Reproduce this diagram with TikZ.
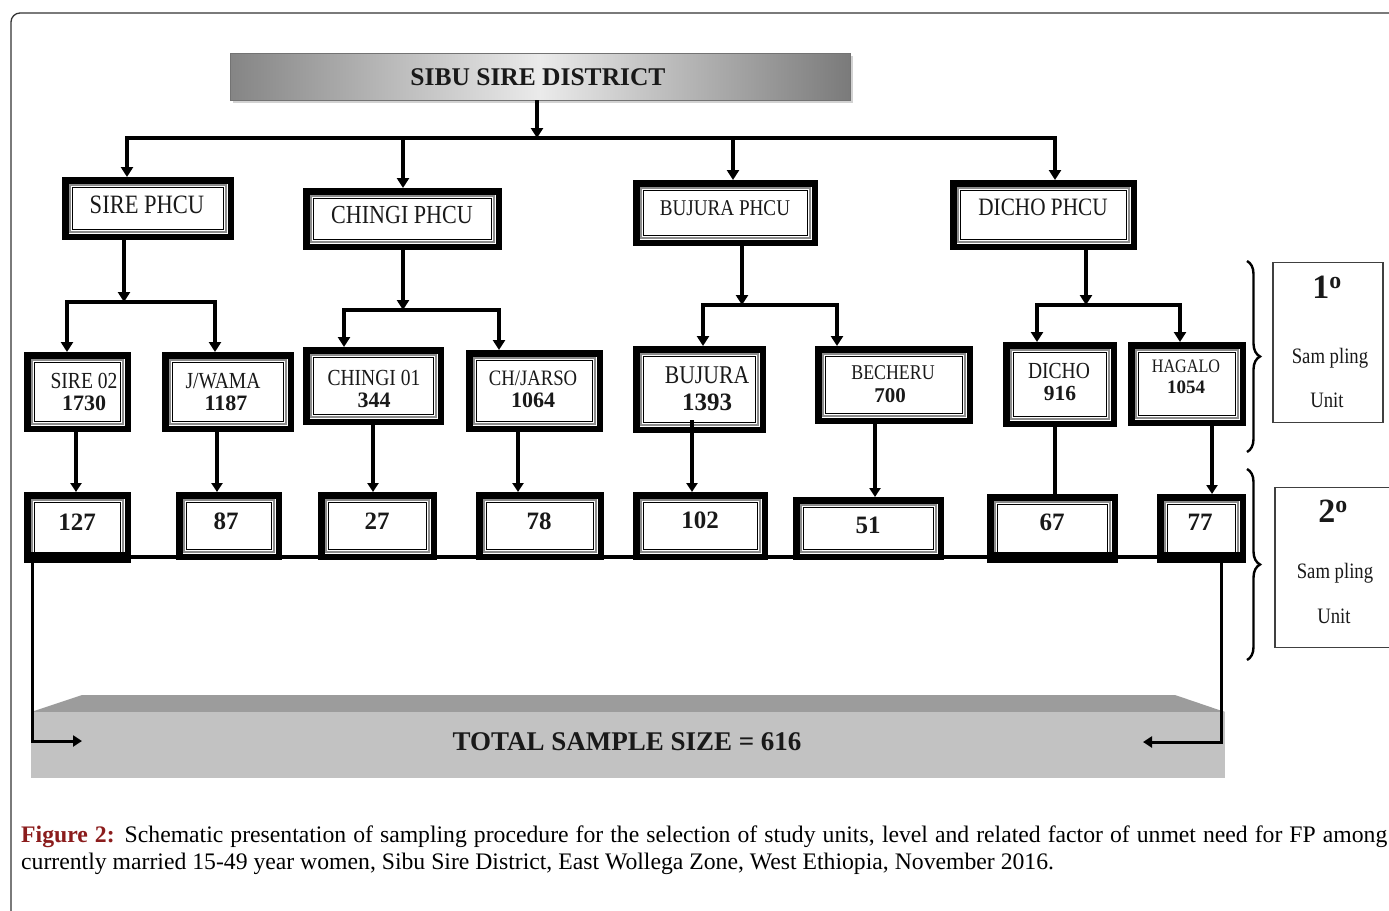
\documentclass[tikz,border=0pt]{standalone}
\usepackage{fontspec}
\setmainfont{Liberation Serif}
\newfontfamily\cond{Liberation Serif}[FakeStretch=0.85]
\usetikzlibrary{arrows.meta,shadows,decorations.pathreplacing}
\definecolor{capred}{HTML}{8B1C1C}
\definecolor{slabtop}{HTML}{9C9C9C}
\definecolor{slabfront}{HTML}{C2C2C2}
\newcommand\fsz[1]{\fontsize{#1}{#1}\selectfont}
% name, x1, y1, x2, y2 (outer edges, pixel units)
\newcommand\bx[5]{\node[tri, minimum width={(#4-#2-6.5)*1pt}, minimum height={(#5-#3-6.5)*1pt}] (#1) at ({(#2+#4)/2},{(#3+#5)/2}) {};
  \draw[ringa] ([xshift=8.2pt,yshift=-8.2pt]#1.north west) rectangle ([xshift=-8.2pt,yshift=8.2pt]#1.south east);
  \draw[ringb] ([xshift=10.6pt,yshift=-10.6pt]#1.north west) rectangle ([xshift=-10.6pt,yshift=10.6pt]#1.south east);}
\newcommand\thick[1]{\fill[black] (#1.south west) rectangle ([yshift=11pt]#1.south east);}
\begin{document}
\begin{tikzpicture}[x=1pt,y=-1pt,
  tri/.style={draw=black, line width=6.5pt, fill=white, inner sep=0pt, rectangle},
  ringa/.style={draw=black!45, line width=2.2pt},
  ringb/.style={draw=black, line width=0.9pt},
  txt/.style={inner sep=0pt, anchor=base, text=black!90},
  nm/.style={txt, font=\cond\fsz{#1}},
  num/.style={txt, font=\bfseries\fsz{#1}},
  wire/.style={line width=4pt, line cap=rect},
  arr/.style={line width=4pt, -{Triangle[width=12pt,length=10pt]}},
  arrs/.style={line width=3.2pt, -{Triangle[width=11pt,length=9pt]}},
  brc/.style={decorate, decoration={brace, amplitude=13pt}, line width=2.4pt},
  subox/.style={draw=black!75, line width=1.2pt, inner sep=0pt, rectangle}]
\useasboundingbox (0,0) rectangle (1389,910);
\fill[white] (0,0) rectangle (1389,910);
% outer frame
\draw[line width=1.3pt, black!80, rounded corners=9pt] (11,920) -- (11,13) -- (1400,13);

% total slab
\fill[slabtop] (31,712) -- (82,695) -- (1175,695) -- (1225,712) -- cycle;
\fill[slabfront] (31,712) rectangle (1225,778);
\node[num=27] (total) at (627,750) {TOTAL SAMPLE SIZE = 616};

% title
\node[rectangle, draw=black!55, line width=0.6pt, minimum width=620pt, minimum height=47pt,
  left color=black!48, right color=black!52, middle color=black!8,
  drop shadow={opacity=0.35, shadow xshift=3pt, shadow yshift=-3pt}] (title) at (540,76.5) {};
\node[num=25.5] (ttitle) at (538,85) {SIBU SIRE DISTRICT};

% bottom horizontal line
\coordinate (hl) at (24,557); \coordinate (hr) at (1246,557);
\draw[line width=3.5pt] (hl) -- (hr);

% PHCU boxes
\bx{sire}{62}{177}{234}{240}
\bx{chingi}{303}{188}{502}{250}
\bx{bujura}{633}{180}{818}{246}
\bx{dicho}{950}{180}{1137}{250}
% kebele boxes
\bx{sire02}{24}{352}{131}{432}
\bx{jwama}{162}{352}{294}{432}
\bx{chingi01}{303}{347}{444}{425}
\bx{chjarso}{466}{350}{603}{432}
\bx{bujurak}{633}{346}{766}{433}
\bx{becheru}{815}{346}{973}{424}
\bx{dichok}{1003}{342}{1117}{427}
\bx{hagalo}{1128}{342}{1246}{426}
% sample boxes
\bx{n127}{24}{492}{131}{563}
\bx{n87}{176}{492}{282}{560}
\bx{n27}{318}{492}{437}{560}
\bx{n78}{476}{492}{604}{560}
\bx{n102}{633}{492}{768}{560}
\bx{n51}{793}{497}{944}{560}
\bx{n67}{987}{494}{1118}{563}
\bx{n77}{1157}{494}{1246}{563}
\thick{n127}\thick{n67}\thick{n77}

% texts
\node[nm=26.5] (tsire) at (147,213) {SIRE PHCU};
\node[nm=26] (tchingi) at (402,223) {CHINGI PHCU};
\node[nm=22.5] (tbujura) at (725,215) {BUJURA PHCU};
\node[nm=25] (tdicho) at (1043,215) {DICHO PHCU};

\node[nm=23] (a1) at (84,388) {SIRE 02};
\node[num=22] (b1) at (84,410) {1730};
\node[nm=23] (a2) at (223,388) {J/WAMA};
\node[num=22] (b2) at (226,410) {1187};
\node[nm=23] (a3) at (374,385) {CHINGI 01};
\node[num=22] (b3) at (374,407) {344};
\node[nm=22] (a4) at (533,385) {CH/JARSO};
\node[num=22] (b4) at (533,407) {1064};
\node[nm=25.5] (a5) at (707,383) {BUJURA};
\node[num=25] (b5) at (707,410) {1393};
\node[nm=21] (a6) at (893,379) {BECHERU};
\node[num=21] (b6) at (890,402) {700};
\node[nm=23] (a7) at (1059,378) {DICHO};
\node[num=21.5] (b7) at (1060,400) {916};
\node[nm=19] (a8) at (1186,372) {HAGALO};
\node[num=19] (b8) at (1186,393) {1054};

\node[num=25] (c1) at (77,530) {127};
\node[num=25] (c2) at (226,529) {87};
\node[num=25] (c3) at (377,529) {27};
\node[num=25] (c4) at (539,529) {78};
\node[num=25] (c5) at (700,528) {102};
\node[num=25] (c6) at (868,533) {51};
\node[num=25] (c7) at (1052,530) {67};
\node[num=25] (c8) at (1200,530) {77};

% level 1 connectors
\coordinate (bt) at (537,138);
\coordinate (bL) at (127,138); \coordinate (bR) at (1055,138);
\coordinate (bB) at (403,138); \coordinate (bC) at (733,138);
\draw[arr] (bt |- title.south) -- (bt);
\draw[line width=4.5pt, line cap=rect] (bL) -- (bR);
\draw[arr] (bL) -- (bL |- sire.north);
\draw[arr] (bB) -- (bB |- chingi.north);
\draw[arr] (bC) -- (bC |- bujura.north);
\draw[arr] (bR) -- (bR |- dicho.north);

% level 2 connectors
\coordinate (s1) at (124,302); \coordinate (s1l) at (67,302); \coordinate (s1r) at (215,302);
\draw[arr] (s1 |- sire.south) -- (s1);
\draw[wire] (s1l) -- (s1r);
\draw[arr] (s1l) -- (s1l |- sire02.north);
\draw[arr] (s1r) -- (s1r |- jwama.north);

\coordinate (s2) at (403,310); \coordinate (s2l) at (344,310); \coordinate (s2r) at (499,310);
\draw[arr] (s2 |- chingi.south) -- (s2);
\draw[wire] (s2l) -- (s2r);
\draw[arr] (s2l) -- (s2l |- chingi01.north);
\draw[arr] (s2r) -- (s2r |- chjarso.north);

\coordinate (s3) at (742,305); \coordinate (s3l) at (703,305); \coordinate (s3r) at (837,305);
\draw[arr] (s3 |- bujura.south) -- (s3);
\draw[wire] (s3l) -- (s3r);
\draw[arr] (s3l) -- (s3l |- bujurak.north);
\draw[arr] (s3r) -- (s3r |- becheru.north);

\coordinate (s4) at (1086,305); \coordinate (s4l) at (1037,305); \coordinate (s4r) at (1180,305);
\draw[arr] (s4 |- dicho.south) -- (s4);
\draw[wire] (s4l) -- (s4r);
\draw[arr] (s4l) -- (s4l |- dichok.north);
\draw[arr] (s4r) -- (s4r |- hagalo.north);

% level 3 -> samples
\coordinate (v1) at (76,0); \coordinate (v2) at (217,0); \coordinate (v3) at (373,0);
\coordinate (v4) at (518,0); \coordinate (v5) at (692,420); \coordinate (v6) at (875,0);
\coordinate (v7) at (1055,0); \coordinate (v8) at (1212,0);
\draw[arrs] (v1 |- sire02.south) -- (v1 |- n127.north);
\draw[arrs] (v2 |- jwama.south) -- (v2 |- n87.north);
\draw[arrs] (v3 |- chingi01.south) -- (v3 |- n27.north);
\draw[arrs] (v4 |- chjarso.south) -- (v4 |- n78.north);
\draw[arrs] (v5) -- (v5 |- n102.north);
\draw[arrs] (v6 |- becheru.south) -- (v6 |- n51.north);
\draw[line width=3.2pt] (v7 |- dichok.south) -- (v7 |- n67.north);
\draw[arrs] (v8 |- hagalo.south) -- (v8 |- n77.north);

% return arrows to total
\coordinate (r1) at (32,741); \coordinate (r1e) at (82,741);
\coordinate (r2) at (1221,742); \coordinate (r2e) at (1143,742);
\draw[arrs, line width=3pt] (r1 |- n127.south) -- (r1) -- (r1e);
\draw[arrs, line width=3pt] (r2 |- n77.south) -- (r2) -- (r2e);

% braces and sampling unit boxes
\coordinate (br1t) at (1247,261); \coordinate (br1b) at (1247,452);
\coordinate (br2t) at (1247,469); \coordinate (br2b) at (1247,660);
\draw[brc] (br1t) -- (br1b);
\draw[brc] (br2t) -- (br2b);
\node[subox, minimum width=110pt, minimum height=160pt] (su1) at (1328,342.5) {};
\node[subox, minimum width=116pt, minimum height=160pt] (su2) at (1333,567.5) {};
\node[num=34] (u1a) at (1327,298) {1\textsuperscript{o}};
\node[nm=22] (u1b) at (1330,363) {Sam pling};
\node[nm=22] (u1c) at (1327,407) {Unit};
\node[num=34] (u2a) at (1333,522) {2\textsuperscript{o}};
\node[nm=22] (u2b) at (1335,578) {Sam pling};
\node[nm=22] (u2c) at (1334,623) {Unit};

% caption
\node[anchor=base west, inner sep=0pt, font=\fsz{23.7}] (cap1) at (21,842)
  {\makebox[1366pt][s]{\textcolor{capred}{\textbf{Figure 2:}} Schematic presentation of sampling procedure for the selection of study units, level and related factor of unmet need for FP among}};
\node[anchor=base west, inner sep=0pt, font=\fsz{23.7}] (cap2) at (21,869)
  {currently married 15-49 year women, Sibu Sire District, East Wollega Zone, West Ethiopia, November 2016.};
\end{tikzpicture}
\end{document}
